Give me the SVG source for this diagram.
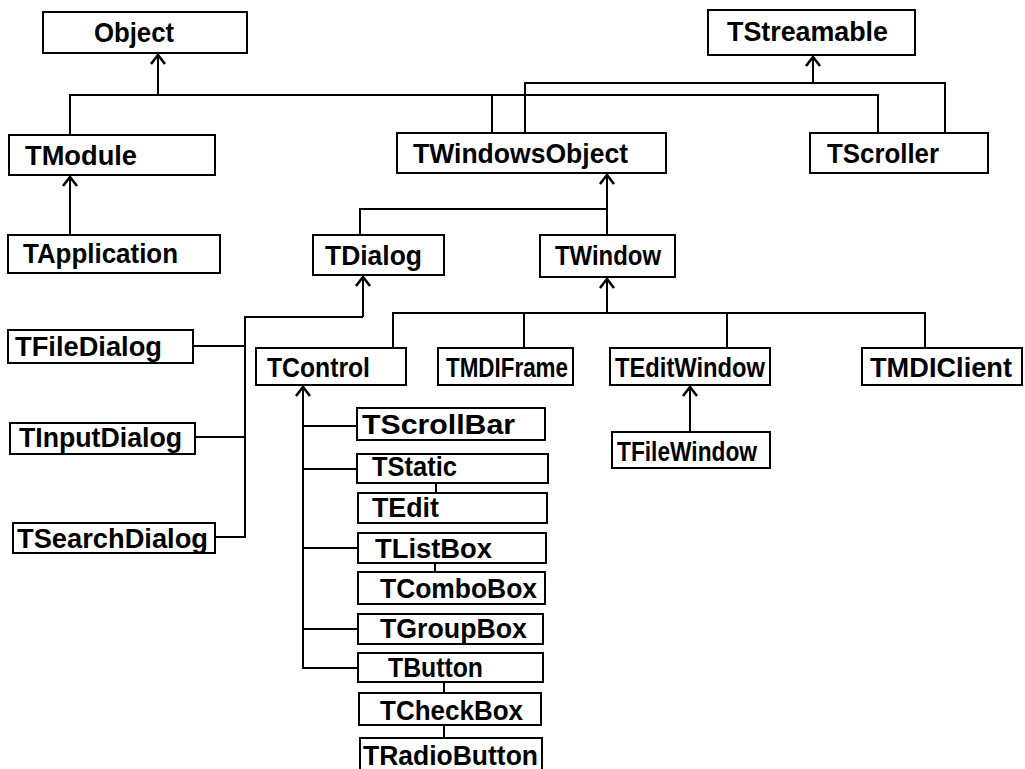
<svg xmlns="http://www.w3.org/2000/svg" width="1025" height="769" viewBox="0 0 1025 769">
  <style>
    .box { fill: #fff; stroke: #000; stroke-width: 2; }
    .lbl { font-family: "Liberation Sans", Arial, sans-serif; font-weight: bold; font-size: 27px; fill: #000; }
    .wire { fill: none; stroke: #000; stroke-width: 2; }
    .up { fill: none; stroke: #000; stroke-width: 2; marker-end: url(#chev); }
  </style>
  <defs>
    <!-- open chevron pointing along the line direction -->
    <marker id="chev" viewBox="-12 -9 14 18" markerWidth="14" markerHeight="18" refX="0" refY="0" orient="auto" markerUnits="userSpaceOnUse">
      <path d="M-9,-7 L0,0 L-9,7" fill="none" stroke="#000" stroke-width="2.6"/>
    </marker>
  </defs>
  <rect width="1025" height="769" fill="#fff"/>

  <!-- inheritance connectors -->
  <g id="connectors">
    <!-- Object and its children -->
    <path class="up" d="M158,95 V55"/>
    <path class="wire" d="M70,135 V95 H878 V133"/>
    <path class="wire" d="M492,95 V133"/>
    <!-- TStreamable and its children -->
    <path class="up" d="M813,83 V57"/>
    <path class="wire" d="M525,133 V83 H945 V133"/>
    <!-- TModule -> TApplication -->
    <path class="up" d="M70,235 V177"/>
    <!-- TWindowsObject -> TDialog, TWindow -->
    <path class="up" d="M607,235 V175"/>
    <path class="wire" d="M360,235 V209 H607"/>
    <!-- TDialog and its children -->
    <path class="up" d="M363,317 V277"/>
    <path class="wire" d="M363,317 H245 V537 H215"/>
    <path class="wire" d="M193,346 H245"/>
    <path class="wire" d="M195,437 H245"/>
    <!-- TWindow and its children -->
    <path class="up" d="M607,313 V279"/>
    <path class="wire" d="M393,348 V313 H925 V348"/>
    <path class="wire" d="M524,313 V348"/>
    <path class="wire" d="M727,313 V348"/>
    <!-- TEditWindow -> TFileWindow -->
    <path class="up" d="M690,432 V387"/>
    <!-- TControl and its children -->
    <path class="up" d="M303,668 V387"/>
    <path class="wire" d="M303,426 H357"/>
    <path class="wire" d="M303,469 H357"/>
    <path class="wire" d="M303,548 H358"/>
    <path class="wire" d="M303,629 H358"/>
    <path class="wire" d="M302,668 H358"/>
    <path class="wire" d="M436,483 V493"/>
    <path class="wire" d="M435,563 V572"/>
    <path class="wire" d="M444,682 V693"/>
    <path class="wire" d="M444,725 V738"/>
  </g>

  <g id="Object"><rect class="box" x="43" y="12" width="204" height="41"/><text class="lbl" x="94" y="42" textLength="80" lengthAdjust="spacingAndGlyphs">Object</text></g>
  <g id="TStreamable"><rect class="box" x="708" y="10" width="207" height="45"/><text class="lbl" x="727" y="41" textLength="161" lengthAdjust="spacingAndGlyphs">TStreamable</text></g>
  <g id="TModule"><rect class="box" x="9" y="135" width="206" height="40"/><text class="lbl" x="25" y="165" textLength="112" lengthAdjust="spacingAndGlyphs">TModule</text></g>
  <g id="TWindowsObject"><rect class="box" x="397" y="133" width="269" height="40"/><text class="lbl" x="413" y="163" textLength="215" lengthAdjust="spacingAndGlyphs">TWindowsObject</text></g>
  <g id="TScroller"><rect class="box" x="810" y="133" width="178" height="40"/><text class="lbl" x="827" y="163" textLength="112" lengthAdjust="spacingAndGlyphs">TScroller</text></g>
  <g id="TApplication"><rect class="box" x="8" y="235" width="212" height="38"/><text class="lbl" x="23" y="263" textLength="155" lengthAdjust="spacingAndGlyphs">TApplication</text></g>
  <g id="TDialog"><rect class="box" x="313" y="235" width="131" height="40"/><text class="lbl" x="325" y="265" textLength="97" lengthAdjust="spacingAndGlyphs">TDialog</text></g>
  <g id="TWindow"><rect class="box" x="540" y="235" width="135" height="42"/><text class="lbl" x="555" y="265" textLength="106" lengthAdjust="spacingAndGlyphs">TWindow</text></g>
  <g id="TFileDialog"><rect class="box" x="8" y="330" width="185" height="33"/><text class="lbl" x="15" y="356" textLength="147" lengthAdjust="spacingAndGlyphs">TFileDialog</text></g>
  <g id="TInputDialog"><rect class="box" x="10" y="423" width="185" height="31"/><text class="lbl" x="19" y="447" textLength="163" lengthAdjust="spacingAndGlyphs">TInputDialog</text></g>
  <g id="TSearchDialog"><rect class="box" x="13" y="523" width="202" height="30"/><text class="lbl" x="17" y="548" textLength="191" lengthAdjust="spacingAndGlyphs">TSearchDialog</text></g>
  <g id="TControl"><rect class="box" x="256" y="348" width="150" height="37"/><text class="lbl" x="267" y="377" textLength="103" lengthAdjust="spacingAndGlyphs">TControl</text></g>
  <g id="TMDIFrame"><rect class="box" x="438" y="348" width="135" height="37"/><text class="lbl" x="446" y="377" textLength="122" lengthAdjust="spacingAndGlyphs">TMDIFrame</text></g>
  <g id="TEditWindow"><rect class="box" x="610" y="348" width="160" height="37"/><text class="lbl" x="615" y="377" textLength="150" lengthAdjust="spacingAndGlyphs">TEditWindow</text></g>
  <g id="TMDIClient"><rect class="box" x="862" y="348" width="160" height="37"/><text class="lbl" x="870" y="377" textLength="142" lengthAdjust="spacingAndGlyphs">TMDIClient</text></g>
  <g id="TFileWindow"><rect class="box" x="612" y="432" width="158" height="36"/><text class="lbl" x="617" y="461" textLength="140" lengthAdjust="spacingAndGlyphs">TFileWindow</text></g>
  <g id="TScrollBar"><rect class="box" x="357" y="408" width="188" height="32"/><text class="lbl" x="362" y="434" textLength="153" lengthAdjust="spacingAndGlyphs">TScrollBar</text></g>
  <g id="TStatic"><rect class="box" x="357" y="454" width="191" height="29"/><text class="lbl" x="372" y="476" textLength="85" lengthAdjust="spacingAndGlyphs">TStatic</text></g>
  <g id="TEdit"><rect class="box" x="358" y="493" width="189" height="30"/><text class="lbl" x="372" y="517" textLength="67" lengthAdjust="spacingAndGlyphs">TEdit</text></g>
  <g id="TListBox"><rect class="box" x="358" y="533" width="188" height="30"/><text class="lbl" x="375" y="558" textLength="117" lengthAdjust="spacingAndGlyphs">TListBox</text></g>
  <g id="TComboBox"><rect class="box" x="358" y="572" width="187" height="32"/><text class="lbl" x="380" y="598" textLength="157" lengthAdjust="spacingAndGlyphs">TComboBox</text></g>
  <g id="TGroupBox"><rect class="box" x="358" y="614" width="185" height="30"/><text class="lbl" x="380" y="638" textLength="147" lengthAdjust="spacingAndGlyphs">TGroupBox</text></g>
  <g id="TButton"><rect class="box" x="358" y="653" width="185" height="29"/><text class="lbl" x="388" y="677" textLength="95" lengthAdjust="spacingAndGlyphs">TButton</text></g>
  <g id="TCheckBox"><rect class="box" x="359" y="693" width="182" height="32"/><text class="lbl" x="380" y="720" textLength="143" lengthAdjust="spacingAndGlyphs">TCheckBox</text></g>
  <g id="TRadioButton"><rect class="box" x="360" y="738" width="182" height="34"/><text class="lbl" x="363" y="765" textLength="175" lengthAdjust="spacingAndGlyphs">TRadioButton</text></g>
</svg>
